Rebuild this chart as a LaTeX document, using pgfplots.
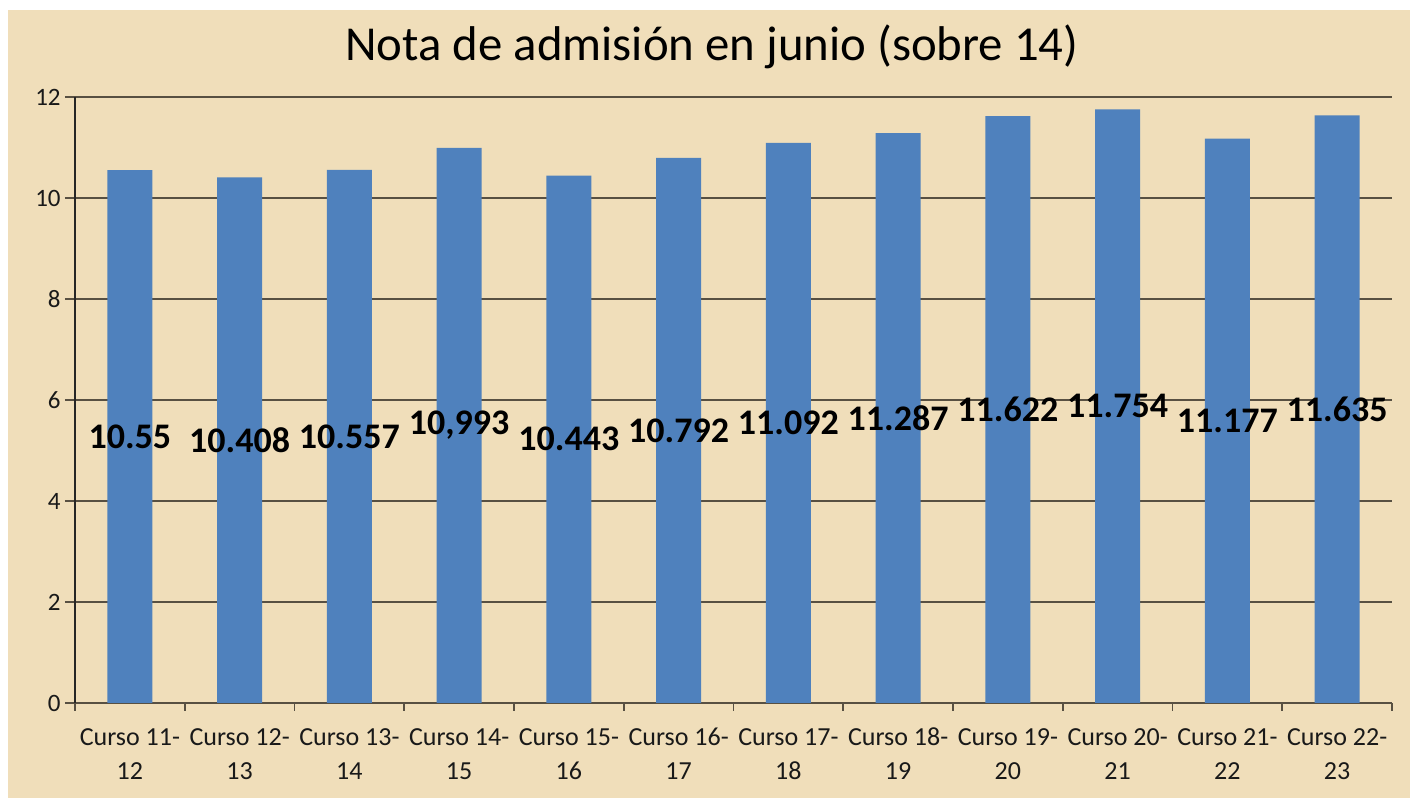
\documentclass[border=0pt]{standalone}
\usepackage{pgfplots}
\pgfplotsset{compat=1.18}
\usepackage{pgfplotstable}
\usepackage{fontspec}
\setmainfont{Carlito}
\definecolor{bg}{RGB}{240,222,186}
\definecolor{barblue}{RGB}{79,129,189}
\definecolor{gridc}{RGB}{88,80,66}
\pgfplotstableread{
x y label
0 10.55 10.55
1 10.408 10.408
2 10.557 10.557
3 10.993 10,993
4 10.443 10.443
5 10.792 10.792
6 11.092 11.092
7 11.287 11.287
8 11.622 11.622
9 11.754 11.754
10 11.177 11.177
11 11.635 11.635
}\datatable
\begin{document}
\begin{tikzpicture}
\path[use as bounding box, fill=white] (0,0) rectangle (705pt,399pt);
\fill[bg] (4pt,0) rectangle (705pt,394pt);
\node[font=\fontsize{24.4}{29}\selectfont, text=black] at (356pt,375.5pt) {Nota de admisión en junio (sobre 14)};
\begin{axis}[
 at={(37.5pt,47.5pt)}, anchor=south west,
 scale only axis, width=658.5pt, height=303pt,
 xmin=-0.5, xmax=11.5, ymin=0, ymax=12,
 axis lines=left, axis line style={-, line width=1pt},
 x axis line style={gridc}, y axis line style={black!85},
 ytick={0,2,...,12}, ymajorgrids, grid style={gridc, line width=1pt},
 xtick={0,...,11},
 xticklabels={{\strut Curso 11-\\\strut 12},{\strut Curso 12-\\\strut 13},{\strut Curso 13-\\\strut 14},{\strut Curso 14-\\\strut 15},{\strut Curso 15-\\\strut 16},{\strut Curso 16-\\\strut 17},{\strut Curso 17-\\\strut 18},{\strut Curso 18-\\\strut 19},{\strut Curso 19-\\\strut 20},{\strut Curso 20-\\\strut 21},{\strut Curso 21-\\\strut 22},{\strut Curso 22-\\\strut 23}},
 minor xtick={-0.5,0.5,...,11.5},
 tick align=outside,
 major x tick style={draw=none},
 minor tick length=4pt, major tick length=5pt,
 tick style={gridc, line width=0.8pt},
 /pgf/number format/assume math mode=true,
 xticklabel style={align=center, anchor=north, font=\fontsize{13}{17}\selectfont, text=black!90, inner sep=0pt, yshift=-4pt},
 yticklabel style={font=\fontsize{12.5}{14}\selectfont, text=black!90, inner sep=2pt},
 clip=false,
]
\addplot[ybar, bar width=22.5pt, fill=barblue, draw=none,
 point meta=explicit symbolic,
 nodes near coords,
 visualization depends on={rawy \as \rawy},
 every node near coord/.append style={anchor=center, yshift={-12.625pt*\rawy}, font=\bfseries\fontsize{18}{20}\selectfont, text=black}]
 table[x=x, y=y, meta=label] {\datatable};
\end{axis}
\end{tikzpicture}
\end{document}
